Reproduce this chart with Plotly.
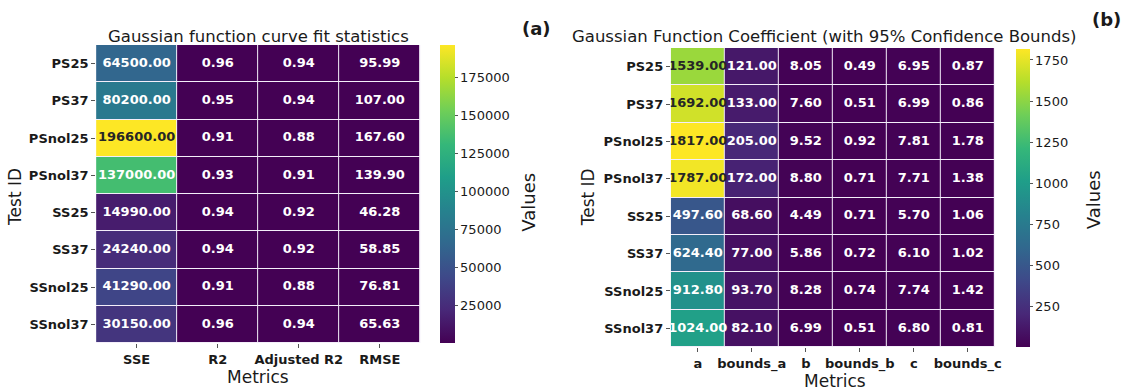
import plotly.graph_objects as go
from plotly.colors import sample_colorscale, unlabel_rgb

# ---------------- data ----------------
test_ids = ["PS25", "PS37", "PSnol25", "PSnol37", "SS25", "SS37", "SSnol25", "SSnol37"]

fit_metrics = ["SSE", "R2", "Adjusted R2", "RMSE"]
sse = [64500.00, 80200.00, 196600.00, 137000.00, 14990.00, 24240.00, 41290.00, 30150.00]
r2 = [0.96, 0.95, 0.91, 0.93, 0.94, 0.94, 0.91, 0.96]
adj_r2 = [0.94, 0.94, 0.88, 0.91, 0.92, 0.92, 0.88, 0.94]
rmse = [95.99, 107.00, 167.60, 139.90, 46.28, 58.85, 76.81, 65.63]

coef_metrics = ["a", "bounds_a", "b", "bounds_b", "c", "bounds_c"]
coef_a = [1539.00, 1692.00, 1817.00, 1787.00, 497.60, 624.40, 912.80, 1024.00]
bounds_a = [121.00, 133.00, 205.00, 172.00, 68.60, 77.00, 93.70, 82.10]
coef_b = [8.05, 7.60, 9.52, 8.80, 4.49, 5.86, 8.28, 6.99]
bounds_b = [0.49, 0.51, 0.92, 0.71, 0.71, 0.72, 0.74, 0.51]
coef_c = [6.95, 6.99, 7.81, 7.71, 5.70, 6.10, 7.74, 6.80]
bounds_c = [0.87, 0.86, 1.78, 1.38, 1.06, 1.02, 1.42, 0.81]

cb1_ticks = [25000, 50000, 75000, 100000, 125000, 150000, 175000]
cb2_ticks = [250, 500, 750, 1000, 1250, 1500, 1750]

FONT = "DejaVu Sans"
W, H = 1126, 391


def px(x):
    return x / W


def py(y):
    return 1 - y / H


def rel_lum(rgb):
    def ch(c):
        c = c / 255.0
        return c / 12.92 if c <= 0.03928 else ((c + 0.055) / 1.055) ** 2.4
    r, g, b = rgb
    return 0.2126 * ch(r) + 0.7152 * ch(g) + 0.0722 * ch(b)


def build(cols, metrics):
    z = [[cols[j][i] for j in range(len(metrics))] for i in range(len(test_ids))]
    flat = [v for row in z for v in row]
    lo, hi = min(flat), max(flat)
    xs, ys, txt, clr = [], [], [], []
    for i, tid in enumerate(test_ids):
        for j, m in enumerate(metrics):
            v = z[i][j]
            frac = (v - lo) / (hi - lo)
            c = sample_colorscale("Viridis", [frac])[0]
            rgb = unlabel_rgb(c)
            xs.append(m)
            ys.append(tid)
            txt.append(f"{v:.2f}")
            clr.append("#262626" if rel_lum(rgb) > 0.408 else "white")
    return z, xs, ys, txt, clr


z1, x1, y1, t1, c1 = build([sse, r2, adj_r2, rmse], fit_metrics)
z2, x2, y2, t2, c2 = build([coef_a, bounds_a, coef_b, bounds_b, coef_c, bounds_c], coef_metrics)

fig = go.Figure()
fig.add_trace(go.Heatmap(z=z1, x=fit_metrics, y=test_ids, coloraxis="coloraxis",
                         xgap=1, ygap=1, hoverinfo="skip", xaxis="x", yaxis="y"))
fig.add_trace(go.Scatter(x=x1, y=y1, text=t1, mode="text", xaxis="x", yaxis="y",
                         textfont=dict(family=FONT, size=13, color=c1, weight="bold"),
                         hoverinfo="skip", showlegend=False))
fig.add_trace(go.Heatmap(z=z2, x=coef_metrics, y=test_ids, coloraxis="coloraxis2",
                         xgap=1, ygap=1, hoverinfo="skip", xaxis="x2", yaxis="y2"))
fig.add_trace(go.Scatter(x=x2, y=y2, text=t2, mode="text", xaxis="x2", yaxis="y2",
                         textfont=dict(family=FONT, size=13, color=c2, weight="bold"),
                         hoverinfo="skip", showlegend=False))

tickfont = dict(family=FONT, size=13, color="#1a1a1a", weight="bold")
axis_common = dict(showgrid=False, zeroline=False, showline=False, ticks="outside",
                   ticklen=4, tickcolor="#555", tickwidth=1, tickfont=tickfont)

fig.update_layout(
    width=W, height=H,
    margin=dict(l=0, r=0, t=0, b=0),
    paper_bgcolor="white", plot_bgcolor="#f4eefa",
    showlegend=False,
    font=dict(family=FONT, color="#1a1a1a"),
    xaxis=dict(domain=[px(96.7), px(423)], anchor="y", **axis_common),
    yaxis=dict(domain=[py(343), py(45)], anchor="x", autorange="reversed", **axis_common),
    xaxis2=dict(domain=[px(675), px(1001)], anchor="y2", **axis_common),
    yaxis2=dict(domain=[py(347), py(48)], anchor="x2", autorange="reversed", **axis_common),
    coloraxis=dict(
        colorscale="Viridis",
        colorbar=dict(x=px(443), xanchor="left", y=py(45), yanchor="top",
                      len=298, lenmode="pixels", thickness=15, xpad=0, ypad=0,
                      outlinewidth=0, ticks="outside", ticklen=3, tickcolor="#555",
                      tickvals=cb1_ticks, ticktext=[str(v) for v in cb1_ticks],
                      tickfont=dict(family=FONT, size=13, color="#1a1a1a")),
    ),
    coloraxis2=dict(
        colorscale="Viridis",
        colorbar=dict(x=px(1022), xanchor="left", y=py(49), yanchor="top",
                      len=298, lenmode="pixels", thickness=14, xpad=0, ypad=0,
                      outlinewidth=0, ticks="outside", ticklen=3, tickcolor="#555",
                      tickvals=cb2_ticks, ticktext=[str(v) for v in cb2_ticks],
                      tickfont=dict(family=FONT, size=13, color="#1a1a1a")),
    ),
)


def ann(text, x, y, size, bold=False, angle=0):
    fig.add_annotation(text=text, x=px(x), y=py(y), xref="paper", yref="paper",
                       xanchor="center", yanchor="middle", showarrow=False,
                       textangle=angle,
                       font=dict(family=FONT, size=size, color="#1a1a1a",
                                 weight="bold" if bold else "normal"))


ann("Gaussian function curve fit statistics", 260, 36, 16.5)
ann("Gaussian Function Coefficient (with 95% Confidence Bounds)", 830, 36, 16.5)
ann("(a)", 540, 28, 18, bold=True)
ann("(b)", 1113, 20, 18, bold=True)
ann("Test ID", 15, 197, 17, angle=-90)
ann("Test ID", 592, 197, 17, angle=-90)
ann("Metrics", 260, 377, 17)
ann("Metrics", 840, 381, 17)
ann("Values", 531, 202, 18, angle=-90)
ann("Values", 1100, 200, 18, angle=-90)

fig.write_html("out.html")
